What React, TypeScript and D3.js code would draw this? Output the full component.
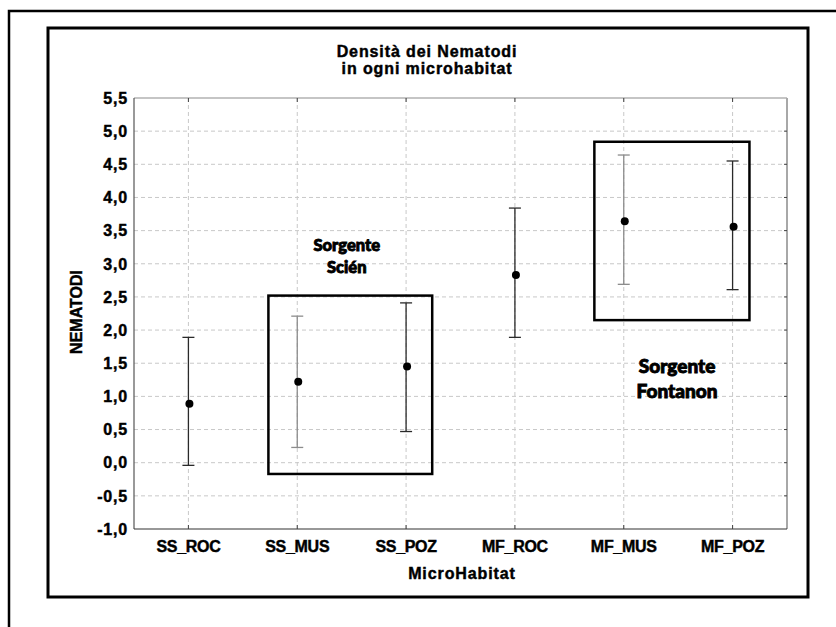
import React from "react";
import * as d3 from "d3";

// Microhabitat categories and their mean nematode density with confidence limits
const categories = ["SS_ROC", "SS_MUS", "SS_POZ", "MF_ROC", "MF_MUS", "MF_POZ"];
const means = [0.89, 1.22, 1.45, 2.83, 3.64, 3.56];
const lowers = [-0.04, 0.23, 0.47, 1.89, 2.69, 2.61];
const uppers = [1.89, 2.21, 2.41, 3.84, 4.64, 4.55];

const yTicks = [-1, -0.5, 0, 0.5, 1, 1.5, 2, 2.5, 3, 3.5, 4, 4.5, 5, 5.5];

// Spring groupings, in category-index units (x) and density units (y)
const groupNames = [["Sorgente", "Scién"], ["Sorgente", "Fontanon"]];
const groupBoxX0 = [0.735, 3.73];
const groupBoxX1 = [2.24, 5.155];
const groupBoxY0 = [-0.17, 2.15];
const groupBoxY1 = [2.52, 4.84];
const groupLabelX = [1.455, 4.49];
const groupLabelY = [3.2, 1.35];

const titleLines = ["Densità dei Nematodi", "in ogni microhabitat"];
const xTitle = "MicroHabitat";
const yTitle = "NEMATODI";

const W = 836;
const H = 627;
const plot = { left: 134, right: 787, top: 98, bottom: 529 };

const fmt = (v: number) => d3.format(".1f")(v).replace(".", ",").replace("−", "-");

export default function App() {
  const x = d3.scaleLinear().domain([-0.5, categories.length - 0.5]).range([plot.left, plot.right]);
  const y = d3.scaleLinear().domain([-1, 5.5]).range([plot.bottom, plot.top]);
  const arial = "'Liberation Sans', Arial, sans-serif";
  const lato = "Lato, 'Open Sans', sans-serif";
  const capW = 6;
  // heavier strokes on text to give the chunky bold look
  const heavy = { stroke: "#000", strokeWidth: 0.45, paintOrder: "stroke" as const };

  return (
    <svg
      width={W}
      height={H}
      viewBox={`0 0 ${W} ${H}`}
      style={{ position: "absolute", left: 0, top: 0, background: "#fff" }}
    >
      <rect x={0} y={0} width={W} height={H} fill="#fff" />
      {/* outer page frame */}
      <path d={`M9,${H} L9,11 L${W},11`} fill="none" stroke="#000" strokeWidth={2.5} />
      {/* chart frame */}
      <rect x={48} y={28} width={760} height={569} fill="#fff" stroke="#000" strokeWidth={3} />

      {/* title */}
      <g fontFamily={arial} fontWeight="bold" fontSize={16} letterSpacing={0.9} textAnchor="middle" fill="#000" {...heavy}>
        {titleLines.map((t, i) => (
          <text key={t} x={427} y={57 + i * 17}>
            {t}
          </text>
        ))}
      </g>

      {/* grid */}
      <g stroke="#c8c8c8" strokeWidth={1} strokeDasharray="4,3">
        {yTicks.slice(1, -1).map((v) => (
          <line key={`gy${v}`} x1={plot.left} x2={plot.right} y1={y(v)} y2={y(v)} />
        ))}
        {categories.map((c, i) => (
          <line key={`gx${c}`} x1={x(i)} x2={x(i)} y1={plot.top} y2={plot.bottom} />
        ))}
      </g>

      {/* plot border and ticks */}
      <line x1={plot.left} x2={plot.right} y1={plot.top} y2={plot.top} stroke="#8c8c8c" strokeWidth={1.2} />
      <line x1={plot.right} x2={plot.right} y1={plot.top} y2={plot.bottom} stroke="#a8a8a8" strokeWidth={2} />
      <line x1={plot.left} x2={plot.left} y1={plot.top} y2={plot.bottom} stroke="#555" strokeWidth={1.2} />
      <line x1={plot.left} x2={plot.right} y1={plot.bottom} y2={plot.bottom} stroke="#333" strokeWidth={1.2} />
      <g stroke="#444" strokeWidth={1}>
        {yTicks.slice(1, -1).map((v) => (
          <line key={`ry${v}`} x1={plot.right - 3} x2={plot.right} y1={y(v)} y2={y(v)} />
        ))}
        {categories.map((c, i) => (
          <g key={`tk${c}`}>
            <line x1={x(i)} x2={x(i)} y1={plot.top} y2={plot.top + 4} />
            <line x1={x(i)} x2={x(i)} y1={plot.bottom - 4} y2={plot.bottom} />
          </g>
        ))}
      </g>

      {/* y tick labels */}
      <g fontFamily={arial} fontWeight="bold" fontSize={16} letterSpacing={0.8} textAnchor="end" fill="#000" {...heavy}>
        {yTicks.map((v) => (
          <text key={`yl${v}`} x={128} y={y(v)} dy="0.36em">
            {fmt(v)}
          </text>
        ))}
      </g>

      {/* x tick labels */}
      <g fontFamily={arial} fontWeight="bold" fontSize={16} letterSpacing={-0.3} textAnchor="middle" fill="#000" {...heavy}>
        {categories.map((c, i) => (
          <text key={`xl${c}`} x={x(i)} y={552}>
            {c}
          </text>
        ))}
      </g>

      {/* axis titles */}
      <text
        x={462}
        y={579}
        fontFamily={arial}
        fontWeight="bold"
        fontSize={16}
        letterSpacing={0.9}
        textAnchor="middle"
        {...heavy}
      >
        {xTitle}
      </text>
      <text
        transform={`translate(82,312) rotate(-90)`}
        fontFamily={arial}
        fontWeight="bold"
        fontSize={16}
        textAnchor="middle"
        {...heavy}
      >
        {yTitle}
      </text>

      {/* group boxes */}
      {groupBoxX0.map((x0, g) => (
        <rect
          key={`box${g}`}
          x={x(x0)}
          y={y(groupBoxY1[g])}
          width={x(groupBoxX1[g]) - x(x0)}
          height={y(groupBoxY0[g]) - y(groupBoxY1[g])}
          fill="none"
          stroke="#000"
          strokeWidth={2.5}
        />
      ))}

      {/* error bars and means */}
      {categories.map((c, i) => {
        const col = i % 3 === 1 ? "#8c8c8c" : "#2a2a2a";
        const cx = x(i);
        return (
          <g key={`pt${c}`}>
            <line x1={cx} x2={cx} y1={y(lowers[i])} y2={y(uppers[i])} stroke={col} strokeWidth={1.3} />
            <line x1={cx - capW} x2={cx + capW} y1={y(lowers[i])} y2={y(lowers[i])} stroke={col} strokeWidth={1.3} />
            <line x1={cx - capW} x2={cx + capW} y1={y(uppers[i])} y2={y(uppers[i])} stroke={col} strokeWidth={1.3} />
            <circle cx={cx + 1} cy={y(means[i])} r={4} fill="#000" />
          </g>
        );
      })}

      {/* group labels */}
      <g fontFamily={lato} fontWeight={900} textAnchor="middle" fill="#000" stroke="#000" strokeWidth={0.9} style={{ paintOrder: "stroke" }}>
        {groupNames.map((lines, g) => {
          const fs = g === 0 ? 16.5 : 19;
          const lh = g === 0 ? 22.5 : 25;
          return lines.map((t, k) => (
            <text key={`gl${g}${k}`} x={x(groupLabelX[g])} y={y(groupLabelY[g]) + k * lh} fontSize={fs}>
              {t}
            </text>
          ));
        })}
      </g>
    </svg>
  );
}
